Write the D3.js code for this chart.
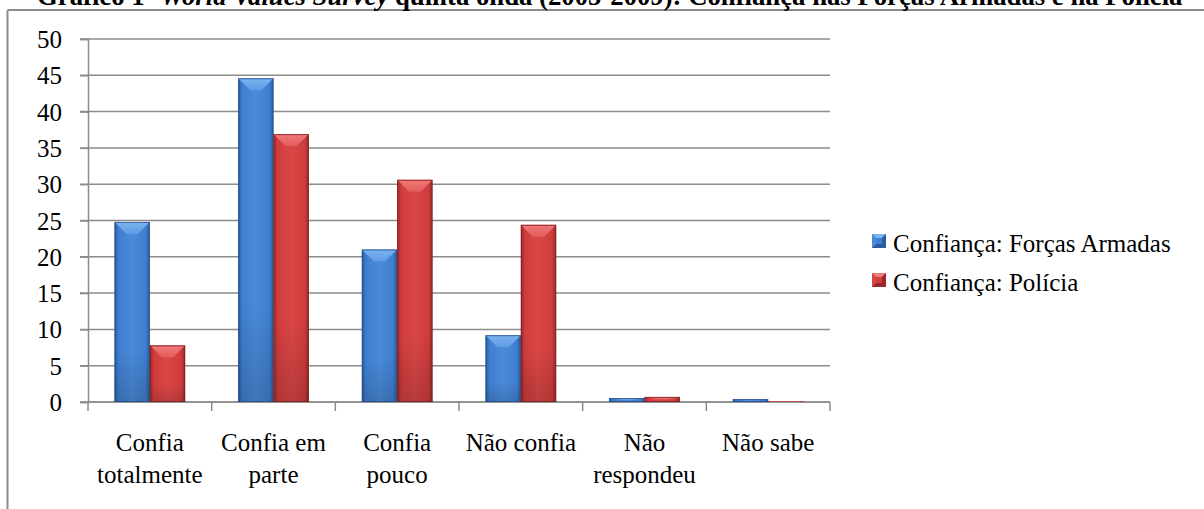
<!DOCTYPE html>
<html><head><meta charset="utf-8">
<script src="https://cdn.jsdelivr.net/npm/d3@7"></script>
<style>html,body{margin:0;padding:0;background:#fff;overflow:hidden}</style>
</head><body>
<svg id="c" width="1204" height="509"></svg>
<script>
const categories = [["Confia","totalmente"],["Confia em","parte"],["Confia","pouco"],["Não confia"],["Não","respondeu"],["Não sabe"]];
const seriesNames = ["Confiança: Forças Armadas","Confiança: Polícia"];
const forcasArmadas = [24.8, 44.6, 21.0, 9.2, 0.55, 0.4];
const policia = [7.8, 36.9, 30.6, 24.4, 0.7, 0.1];
const yTicks = [0,5,10,15,20,25,30,35,40,45,50];

(function(){
const svg = d3.select("#c");
const font = "'Liberation Serif','Times New Roman',serif";
const pLeft = 88, pRight = 830, pTop = 39, pBottom = 402;
const x = d3.scaleBand().domain(d3.range(categories.length)).range([pLeft, pRight]).paddingInner(0).paddingOuter(0);
const barW = x.bandwidth() / 3.5;
const y = d3.scaleLinear().domain([0, 50]).range([pBottom, pTop]);

const defs = svg.append("defs");
const palettes = [
  {dark:"#2a5b9e", mid:"#3f7fcf", light:"#4a8ad8", bevel:"#7db4f0", bevel2:"#5f9be3", stroke:"#24508c"},
  {dark:"#9a2828", mid:"#cf3d3d", light:"#d94646", bevel:"#f07a7a", bevel2:"#e35c5c", stroke:"#7d2020"}
];
palettes.forEach((p,i)=>{
  const g = defs.append("linearGradient").attr("id","body"+i).attr("x1",0).attr("x2",1).attr("y1",0).attr("y2",0);
  g.append("stop").attr("offset","0%").attr("stop-color",p.dark);
  g.append("stop").attr("offset","12%").attr("stop-color",p.mid);
  g.append("stop").attr("offset","50%").attr("stop-color",p.light);
  g.append("stop").attr("offset","88%").attr("stop-color",p.mid);
  g.append("stop").attr("offset","100%").attr("stop-color",p.dark);
  const v = defs.append("linearGradient").attr("id","shade"+i).attr("x1",0).attr("x2",0).attr("y1",0).attr("y2",1);
  v.append("stop").attr("offset","0%").attr("stop-color","#fff").attr("stop-opacity",0);
  v.append("stop").attr("offset","70%").attr("stop-color","#000").attr("stop-opacity",0.0);
  v.append("stop").attr("offset","100%").attr("stop-color","#000").attr("stop-opacity",0.15);
  const b = defs.append("linearGradient").attr("id","bevel"+i).attr("x1",0).attr("x2",0).attr("y1",0).attr("y2",1);
  b.append("stop").attr("offset","0%").attr("stop-color",p.bevel);
  b.append("stop").attr("offset","100%").attr("stop-color",p.bevel2);
});

// frame
svg.append("line").attr("x1",7.5).attr("x2",1204).attr("y1",10).attr("y2",10).attr("stroke","#8c8c8c").attr("stroke-width",2);
svg.append("line").attr("x1",7.5).attr("x2",7.5).attr("y1",10).attr("y2",509).attr("stroke","#8c8c8c").attr("stroke-width",2);

// title (partially cut at the top, as in the reference)
const title = svg.append("text").attr("x",37).attr("y",4.5).attr("font-family",font).attr("font-weight","bold").attr("font-size",24).attr("fill","#000");
title.append("tspan").text("Gráfico 1- ");
title.append("tspan").attr("font-style","italic").text("World Values Survey");
title.append("tspan").text(" quinta onda (2005-2009): Confiança nas Forças Armadas e na Polícia");
const tw = title.node().getComputedTextLength();
title.attr("font-size", 24 * 1146 / tw);

// gridlines
svg.append("g").selectAll("line").data(yTicks).join("line")
  .attr("x1", pLeft - 8).attr("x2", pRight).attr("y1", d=>y(d)).attr("y2", d=>y(d))
  .attr("stroke","#8c8c8c").attr("stroke-width",1.5);

// y axis
const yAxis = svg.append("g").attr("transform",`translate(${pLeft},0)`)
  .call(d3.axisLeft(y).tickValues(yTicks).tickSize(8).tickPadding(18));
yAxis.select(".domain").attr("stroke","#8c8c8c").attr("stroke-width",1.5);
yAxis.selectAll(".tick line").attr("stroke","#8c8c8c").attr("stroke-width",1.5);
yAxis.selectAll("text").attr("font-family",font).attr("font-size",25).attr("fill","#000").attr("dy","0.34em");

// x axis
const xAxis = svg.append("g").attr("transform",`translate(0,${pBottom})`);
xAxis.append("line").attr("x1",pLeft).attr("x2",pRight).attr("stroke","#8c8c8c").attr("stroke-width",1.5);
const bounds = d3.range(categories.length+1).map(i => i < categories.length ? x(i) : pRight);
xAxis.selectAll("line.tk").data(bounds).join("line").attr("class","tk")
  .attr("x1",d=>d).attr("x2",d=>d).attr("y1",0).attr("y2",9).attr("stroke","#8c8c8c").attr("stroke-width",1.5);
xAxis.selectAll("text.cat").data(categories).join("text").attr("class","cat")
  .attr("font-family",font).attr("font-size",25).attr("fill","#000").attr("text-anchor","middle")
  .each(function(lines,i){
    const t = d3.select(this);
    lines.forEach((l,j)=>t.append("tspan").attr("x", x(i)+x.bandwidth()/2).attr("y", 49 + j*32).text(l));
  });

// bars
const series = [forcasArmadas, policia];
series.forEach((vals, si)=>{
  const g = svg.append("g");
  vals.forEach((v,i)=>{
    const bx = x(i) + (x.bandwidth() - 2*barW)/2 + si*barW;
    const by = y(v), h = y(0) - y(v);
    const bg = g.append("g");
    bg.append("rect").attr("x",bx).attr("y",by).attr("width",barW).attr("height",h).attr("fill",`url(#body${si})`);
    bg.append("rect").attr("x",bx).attr("y",by).attr("width",barW).attr("height",h).attr("fill",`url(#shade${si})`);
    const bh = Math.min(12, h/2), inset = Math.min(12, barW/2);
    if (h > 2) {
      bg.append("path").attr("d",`M${bx},${by}L${bx+barW},${by}L${bx+barW-inset},${by+bh}L${bx+inset},${by+bh}Z`).attr("fill",`url(#bevel${si})`);
    }
    bg.append("rect").attr("x",bx+0.5).attr("y",by+0.5).attr("width",barW-1).attr("height",Math.max(0,h-1))
      .attr("fill","none").attr("stroke",palettes[si].stroke).attr("stroke-width",1).attr("stroke-opacity",0.8);
  });
});

// legend
const legY = [252, 291];
seriesNames.forEach((n,i)=>{
  const lg = svg.append("g");
  const s = 14, mx = 872, my = legY[i]-18;
  lg.append("rect").attr("x",mx).attr("y",my).attr("width",s).attr("height",s).attr("fill",palettes[i].mid);
  lg.append("path").attr("d",`M${mx},${my}L${mx+s},${my}L${mx+s-4},${my+4}L${mx+4},${my+4}Z`).attr("fill",palettes[i].bevel);
  lg.append("path").attr("d",`M${mx},${my+s}L${mx+s},${my+s}L${mx+s-4},${my+s-4}L${mx+4},${my+s-4}Z`).attr("fill",palettes[i].dark);
  lg.append("path").attr("d",`M${mx},${my}L${mx+4},${my+4}L${mx+4},${my+s-4}L${mx},${my+s}Z`).attr("fill",palettes[i].light);
  lg.append("path").attr("d",`M${mx+s},${my}L${mx+s-4},${my+4}L${mx+s-4},${my+s-4}L${mx+s},${my+s}Z`).attr("fill",palettes[i].dark);
  lg.append("text").attr("x",893).attr("y",legY[i]).attr("font-family",font).attr("font-size",25).attr("fill","#000").text(n);
});
})();
</script>
</body></html>
